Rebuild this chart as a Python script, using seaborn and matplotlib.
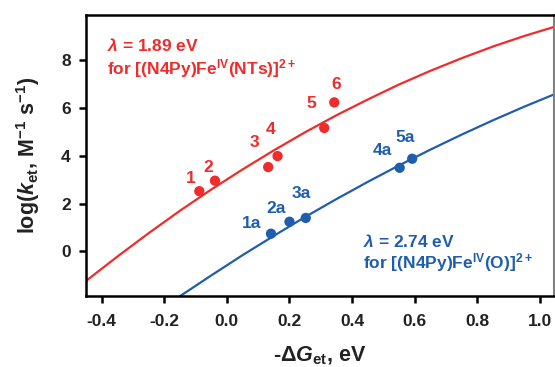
import numpy as np
import pandas as pd
import matplotlib
matplotlib.use("Agg")
import matplotlib.pyplot as plt
import seaborn as sns

# ---- data ----
# fitted Marcus curves
red_curve_x = [-0.45, -0.35, -0.25, -0.15, -0.05, 0.05, 0.15, 0.25, 0.35, 0.45, 0.55, 0.65, 0.75, 0.85, 0.95, 1.05]
red_curve_y = [-1.24, -0.22, 0.76, 1.70, 2.59, 3.43, 4.23, 4.99, 5.70, 6.36, 6.99, 7.56, 8.09, 8.58, 9.02, 9.42]
blue_curve_x = [-0.15, -0.05, 0.05, 0.15, 0.25, 0.35, 0.45, 0.55, 0.65, 0.75, 0.85, 0.95, 1.05]
blue_curve_y = [-1.88, -1.01, -0.16, 0.65, 1.44, 2.19, 2.91, 3.60, 4.26, 4.89, 5.49, 6.06, 6.60]

# experimental points
red_x = [-0.088, -0.038, 0.132, 0.162, 0.311, 0.343]
red_y = [2.52, 2.96, 3.53, 3.99, 5.17, 6.24]
red_labels = ["1", "2", "3", "4", "5", "6"]
blue_x = [0.141, 0.200, 0.252, 0.552, 0.592]
blue_y = [0.74, 1.24, 1.40, 3.50, 3.88]
blue_labels = ["1a", "2a", "3a", "4a", "5a"]

x_ticks = [-0.4, -0.2, 0.0, 0.2, 0.4, 0.6, 0.8, 1.0]
y_ticks = [0, 2, 4, 6, 8]

# label offsets (points) - styling only
red_offsets = [(-6, 9), (-4.5, 9.5), (-10, 17.5), (-5, 19), (-9.5, 17.5), (1.5, 13)]
blue_offsets = [(-14, 7.5), (-10, 9.5), (-3.5, 17.5), (-12.5, 12.5), (-5, 15)]

RED = "#EE2C2C"
BLUE = "#1F5EAE"
INK = "#222222"

sns.set_theme(style="ticks")
plt.rcParams["font.family"] = ["Liberation Sans", "DejaVu Sans"]
plt.rcParams["font.weight"] = "bold"
plt.rcParams["mathtext.fontset"] = "custom"
plt.rcParams["mathtext.rm"] = "Liberation Sans:bold"
plt.rcParams["mathtext.bf"] = "Liberation Sans:bold"
plt.rcParams["mathtext.it"] = "Liberation Sans:italic:bold"
plt.rcParams["mathtext.default"] = "rm"

fig = plt.figure(figsize=(5.55, 3.67), dpi=100)
ax = fig.add_axes([86 / 555, 1 - 296 / 367, 468 / 555, 281 / 367])

df_rc = pd.DataFrame({"x": red_curve_x, "y": red_curve_y})
df_bc = pd.DataFrame({"x": blue_curve_x, "y": blue_curve_y})
sns.lineplot(data=df_rc, x="x", y="y", ax=ax, color=RED, lw=1.6, sort=True)
sns.lineplot(data=df_bc, x="x", y="y", ax=ax, color=BLUE, lw=1.6, sort=True)

df_r = pd.DataFrame({"x": red_x, "y": red_y})
df_b = pd.DataFrame({"x": blue_x, "y": blue_y})
sns.scatterplot(data=df_r, x="x", y="y", ax=ax, color=RED, s=55, edgecolor="none", zorder=3)
sns.scatterplot(data=df_b, x="x", y="y", ax=ax, color=BLUE, s=55, edgecolor="none", zorder=3)

FS = 12.5
for xv, yv, lab, off in zip(red_x, red_y, red_labels, red_offsets):
    ax.annotate(lab, (xv, yv), xytext=off, textcoords="offset points",
                ha="center", va="center", color=RED, fontsize=FS, fontweight="bold")
for xv, yv, lab, off in zip(blue_x, blue_y, blue_labels, blue_offsets):
    ax.annotate(lab, (xv, yv), xytext=off, textcoords="offset points",
                ha="center", va="center", color=BLUE, fontsize=FS, fontweight="bold")

ax.text(0.045, 0.893, r"$\mathit{\lambda}$ = 1.89 eV", transform=ax.transAxes,
        color=RED, fontsize=FS, fontweight="bold", ha="left", va="center")
ax.text(0.045, 0.811, r"for [(N4Py)Fe$^{\mathrm{IV}}$(NTs)]$^{\mathrm{2+}}$", transform=ax.transAxes,
        color=RED, fontsize=FS, fontweight="bold", ha="left", va="center")
ax.text(0.592, 0.193, r"$\mathit{\lambda}$ = 2.74 eV", transform=ax.transAxes,
        color=BLUE, fontsize=FS, fontweight="bold", ha="left", va="center")
ax.text(0.592, 0.1185, r"for [(N4Py)Fe$^{\mathrm{IV}}$(O)]$^{\mathrm{2+}}$", transform=ax.transAxes,
        color=BLUE, fontsize=FS, fontweight="bold", ha="left", va="center")

ax.set_xlim(-0.45, 1.045)
ax.set_ylim(-1.87, 9.9)
ax.set_xticks(x_ticks)
ax.set_xticklabels([f"{v:.1f}" for v in x_ticks])
ax.set_yticks(y_ticks)
ax.set_yticklabels([str(v) for v in y_ticks])
ax.tick_params(axis="both", direction="out", length=5, width=1.8, labelsize=12.5,
               colors=INK, labelcolor=INK)
ax.tick_params(axis="x", pad=8)
ax.tick_params(axis="y", pad=6)
ax.tick_params(axis="both", color="black")
for lab in ax.get_xticklabels() + ax.get_yticklabels():
    lab.set_fontweight("bold")

for side in ["left", "bottom", "top"]:
    ax.spines[side].set_linewidth(1.8)
    ax.spines[side].set_color("black")
ax.spines["right"].set_linewidth(1.5)
ax.spines["right"].set_color("#808080")

ax.set_xlabel(r"-$\Delta\mathit{G}_{\mathrm{et}}$, eV", fontsize=15.5, fontweight="bold",
              labelpad=11, color=INK)
ax.set_ylabel(r"log($\mathit{k}_{\mathrm{et}}$, M$^{-1}$ s$^{-1}$)", fontsize=15.5,
              fontweight="bold", labelpad=14, color=INK)

fig.savefig("out.png", dpi=100)
